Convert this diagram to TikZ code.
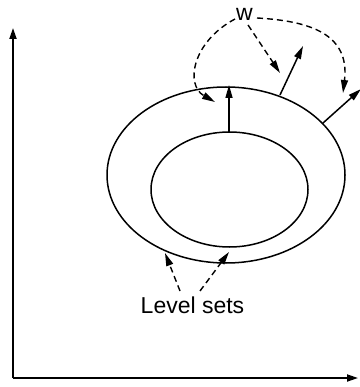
\documentclass[tikz,border=0pt]{standalone}
\usepackage{fontspec}
\setmainfont{Liberation Sans}
\usetikzlibrary{arrows.meta}
\begin{document}
\begin{tikzpicture}[x=1pt,y=-1pt,
  axis/.style={line width=1.8pt,-{Triangle[length=11pt,width=7pt]}},
  curve/.style={line width=1.5pt},
  normal/.style={line width=1.5pt,-{Triangle[length=13pt,width=7pt]}},
  pointer/.style={line width=1.4pt,dash pattern=on 6pt off 4pt,-{Triangle[length=13pt,width=7pt]}},
  lab/.style={font=\fontsize{23}{26}\selectfont,anchor=base,inner sep=0pt}]
\useasboundingbox (0,0) rectangle (359,387);
% axes
\coordinate (O) at (13,378);
\coordinate (ytip) at (13,28);
\coordinate (xtip) at (358,378);
\draw[axis] (O) -- (ytip);
\draw[axis] (O) -- (xtip);
% level sets
\draw[curve] (226,175) ellipse [x radius=119pt, y radius=88pt];
\draw[curve] (229.5,189.5) ellipse [x radius=78.5pt, y radius=57.5pt];
% normals
\coordinate (n1a) at (229,132);
\coordinate (n1b) at (229,85);
\coordinate (n2a) at (280,95);
\coordinate (n2b) at (303,46);
\coordinate (n3a) at (323,123);
\coordinate (n3b) at (361,89);
\draw[normal] (n1a) -- (n1b);
\draw[normal] (n2a) -- (n2b);
\draw[normal] (n3a) -- (n3b);
% labels
\node[lab] (w) at (244.5,21) {w};
\node[lab] (level) at (192.5,313) {Level sets};
% pointers from w
\coordinate (p1) at (215,102);
\coordinate (p2) at (280,73);
\coordinate (p3) at (343,93);
\draw[pointer] (235,19) .. controls (192,42) and (185,85) .. (p1);
\draw[pointer] (248,25) -- (p2);
\draw[pointer] (257,18) .. controls (310,21) and (350,34) .. (p3);
% pointers from Level sets
\coordinate (q1) at (165,253);
\coordinate (q2) at (229,252);
\draw[pointer] (180,291) -- (q1);
\draw[pointer] (200,291) -- (q2);
\end{tikzpicture}
\end{document}
